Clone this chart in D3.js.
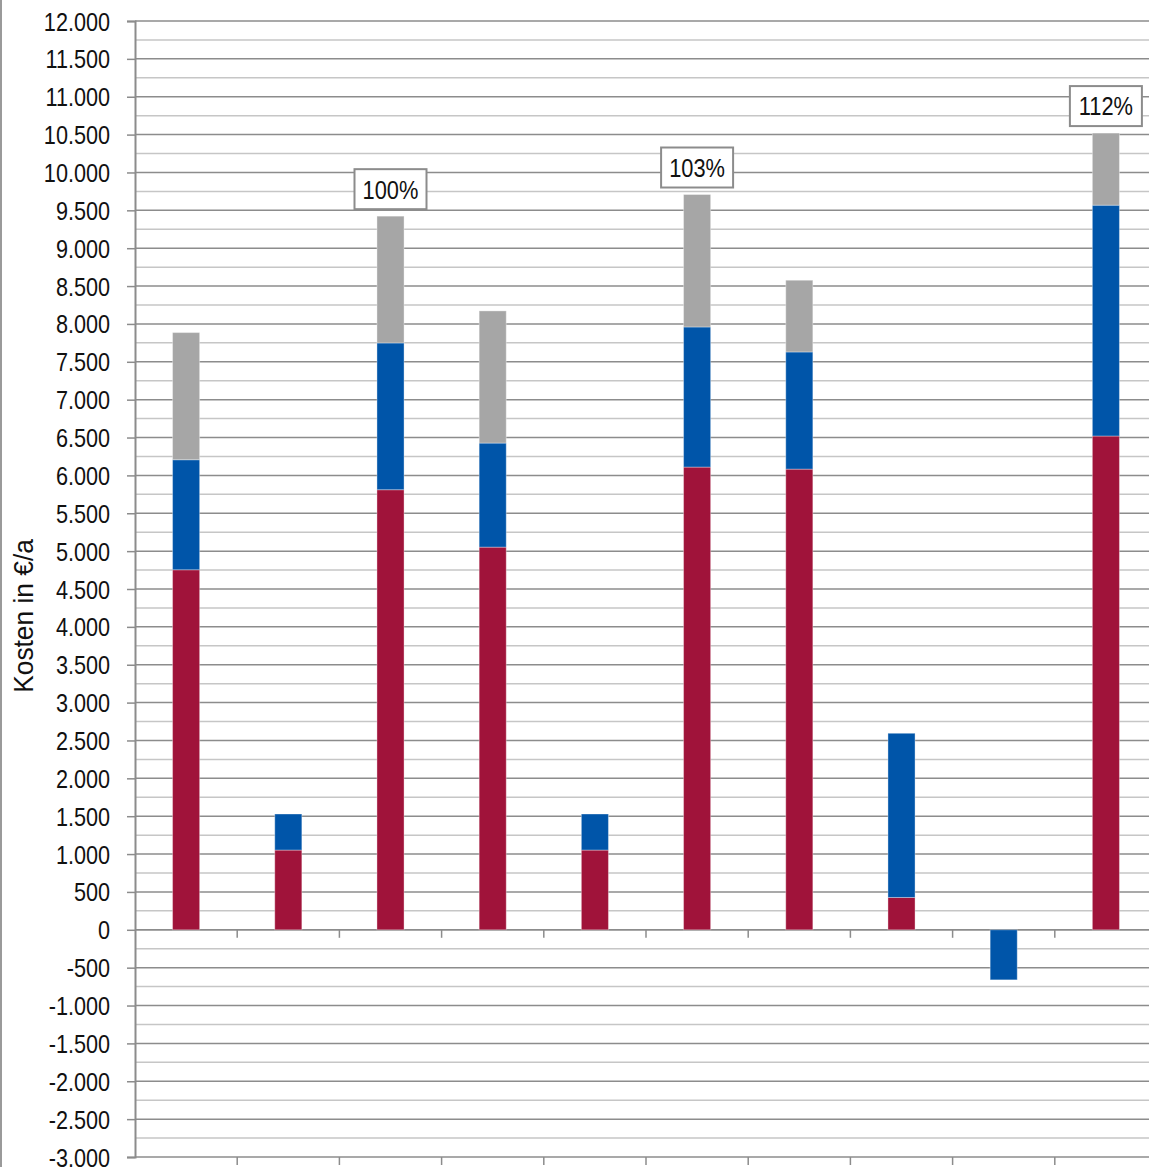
<!DOCTYPE html>
<html><head><meta charset="utf-8">
<script src="https://cdn.jsdelivr.net/npm/d3@7"></script>
<style>
html,body{margin:0;padding:0;background:#fff;}
svg{display:block;}
text{font-family:"Liberation Sans Narrow","Arial Narrow","Liberation Sans",sans-serif;fill:#111;}
</style></head>
<body>
<svg id="chart" width="1149" height="1167"></svg>
<script>
const categories = ["1","2","3","4","5","6","7","8","9","10"];
const seriesNames = ["Rot","Blau","Grau"];
const redValues  = [4754, 1053, 5811, 5053, 1053, 6110, 6083, 427, 0, 6520];
const blueValues = [1453, 476, 1938, 1374, 476, 1850, 1547, 2168, -661, 3048];
const grayValues = [1679, 0, 1674, 1745, 0, 1749, 947, 0, 0, 952];
const percentLabels = [null, null, "100%", null, null, "103%", null, null, null, "112%"];
const yTicks = d3.range(-3000, 12001, 500);
const colors = ["#A0133A", "#0055A9", "#A6A6A6"];

const svg = d3.select("#chart");
const W = 1149, H = 1167;
const pL = 135, pT = 21, pR = 1157, pB = 1157;

const x = d3.scaleBand().domain(categories).range([pL, pR]).paddingInner(0.735).paddingOuter(0.3675);
const y = d3.scaleLinear().domain([-3000, 12000]).range([pB, pT]);
const fmt = v => d3.format(",")(v).replace(/,/g, ".").replace(/\u2212/g, "-");

function narrow(sel, f){
  sel.each(function(){
    const w = this.getComputedTextLength();
    d3.select(this).attr("textLength", w*f).attr("lengthAdjust","spacingAndGlyphs");
  });
}

// left border
svg.append("line").attr("x1",1).attr("x2",1).attr("y1",0).attr("y2",H).attr("stroke","#9a9a9a").attr("stroke-width",2);

// minor gridlines
const minor = d3.range(-2750, 12000, 500);
svg.append("g").selectAll("line").data(minor).join("line")
  .attr("x1", pL).attr("x2", W).attr("y1", d=>y(d)).attr("y2", d=>y(d))
  .attr("stroke","#c6c6c6").attr("stroke-width",1.5);
// major gridlines
svg.append("g").selectAll("line").data(yTicks).join("line")
  .attr("x1", pL).attr("x2", W).attr("y1", d=>y(d)).attr("y2", d=>y(d))
  .attr("stroke","#8c8c8c").attr("stroke-width",1.5);

// y axis
const yAxis = svg.append("g").attr("transform", `translate(${pL},0)`)
  .call(d3.axisLeft(y).tickValues(yTicks).tickFormat(fmt).tickSize(8).tickPadding(17));
yAxis.select(".domain").attr("stroke","#8c8c8c").attr("stroke-width",2);
yAxis.selectAll(".tick line").attr("stroke","#8c8c8c").attr("stroke-width",1.5);
yAxis.selectAll("text").style("font-size","25px").attr("dy","0.36em")
  .style("font-family",'"Liberation Sans Narrow","Arial Narrow","Liberation Sans",sans-serif').attr("fill","#111")
  .call(narrow, 0.865);

// category boundary ticks at zero line and bottom
const step = x.step();
const bounds = d3.range(1, categories.length).map(i => x(categories[i]) - (step - x.bandwidth())/2);
[y(0), pB].forEach(yy => {
  svg.append("g").selectAll("line").data(bounds).join("line")
    .attr("x1", d=>d).attr("x2", d=>d).attr("y1", yy).attr("y2", yy+8)
    .attr("stroke","#8c8c8c").attr("stroke-width",1.5);
});
svg.append("line").attr("x1", pL).attr("x2", W).attr("y1", y(0)).attr("y2", y(0)).attr("stroke","#8c8c8c").attr("stroke-width",1.5);

// stacked data
const rows = categories.map((c,i)=>({cat:c, Rot:redValues[i], Blau:blueValues[i], Grau:grayValues[i]}));
const stack = d3.stack().keys(seriesNames).offset(d3.stackOffsetDiverging);
const layers = stack(rows);
svg.append("g").selectAll("g").data(layers).join("g")
  .attr("fill",(d,i)=>colors[i])
  .selectAll("rect").data(d=>d.filter(p=>p[1]!==p[0])).join("rect")
  .attr("x", d=>x(d.data.cat)).attr("width", x.bandwidth())
  .attr("y", d=>y(Math.max(d[0],d[1]))).attr("height", d=>Math.abs(y(d[0])-y(d[1])))
  .attr("stroke","rgba(255,255,255,0.35)").attr("stroke-width",1);

// percent labels
const totals = rows.map(r => r.Rot + Math.max(r.Blau,0) + r.Grau);
const lab = svg.append("g");
percentLabels.forEach((t,i)=>{
  if(!t) return;
  const cx = x(categories[i]) + x.bandwidth()/2;
  const by = y(totals[i]) - 7;
  lab.append("rect").attr("x", cx-36).attr("y", by-40).attr("width",72).attr("height",40)
    .attr("fill","#fff").attr("stroke","#8c8c8c").attr("stroke-width",2);
  lab.append("text").attr("x", cx).attr("y", by-20).attr("dy","0.36em").attr("text-anchor","middle")
    .style("font-size","26px").text(t).call(narrow, 0.84);
});

// y title
svg.append("text").attr("transform",`translate(33,616) rotate(-90)`).attr("text-anchor","middle")
  .style("font-size","28px").text("Kosten in €/a").call(narrow, 0.94);
</script>
</body></html>
